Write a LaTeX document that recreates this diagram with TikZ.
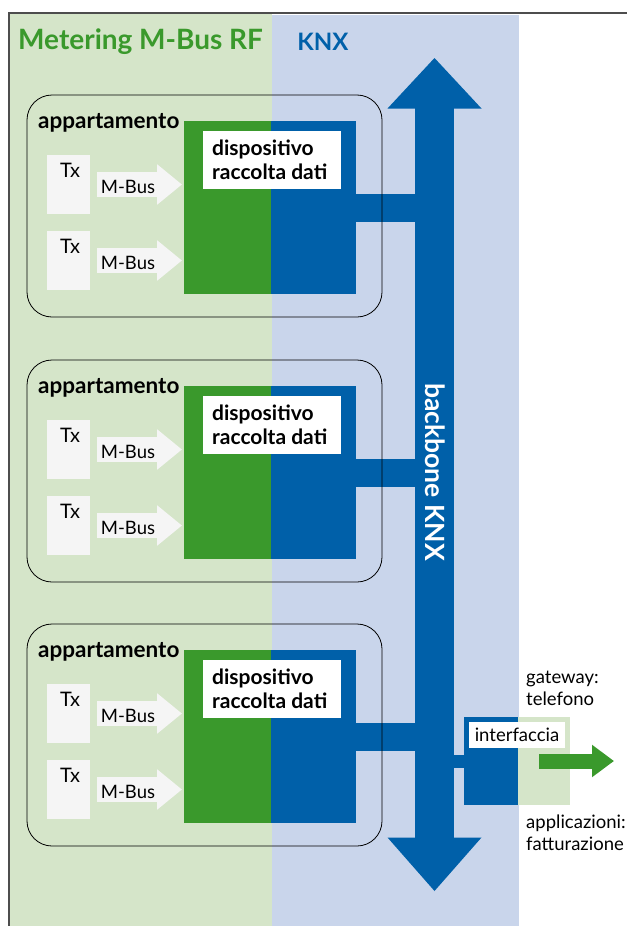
\documentclass[tikz,border=0pt]{standalone}
\usepackage{fontspec}
\setmainfont{Lato}
\usetikzlibrary{arrows.meta}
\definecolor{pgreen}{HTML}{D5E5C9}
\definecolor{pblue}{HTML}{C9D5EB}
\definecolor{dgreen}{HTML}{3A992C}
\definecolor{dblue}{HTML}{0060A9}
\definecolor{txfill}{HTML}{F5F5F5}
\definecolor{framec}{HTML}{4D4D4D}
\begin{document}
\begin{tikzpicture}[x=1pt,y=-1pt,
  box/.style={inner sep=0pt, outer sep=0pt, anchor=north west},
  hdr/.style={font=\bfseries\fontsize{28}{32}\selectfont, inner sep=0pt},
  lbl/.style={font=\bfseries\fontsize{21}{24}\selectfont, inner sep=0pt, align=left},
  txt/.style={font=\fontsize{18.5}{22}\selectfont, inner sep=0pt, align=left},
  bar/.style={draw=dblue, line width=28pt},
  mbusarrow/.style={draw=txfill, line width=25pt, -{Triangle[length=25pt,width=39pt]}, shorten <=7pt, shorten >=2pt},
  garrow/.style={draw=dgreen, line width=15pt, -{Triangle[length=22pt,width=31pt]}}
]
\useasboundingbox (0,0) rectangle (627,926);
% panels
\node[box, fill=pgreen, minimum width=263, minimum height=913] (mbus) at (9,13) {};
\node[box, fill=pblue, minimum width=247, minimum height=911] (knx) at (272,15) {};
\draw[framec, line width=1.5pt] (mbus.south west) -- (mbus.north west) -- (627,13);
% headers
\node[hdr, text=dgreen, anchor=west] (h1) at (18,42) {Metering M-Bus RF};
\node[hdr, text=dblue, font=\bfseries\fontsize{24}{28}\selectfont] (h2) at (323,42) {KNX};
% backbone
\node[box, fill=dblue, minimum width=39, minimum height=730] (bb) at (415,108) {};
\fill[dblue] (bb.north) ++(-47,0.5) -- ++(47,-50.5) -- ++(47,50.5) -- cycle;
\fill[dblue] (bb.south) ++(-47,-0.5) -- ++(47,53.5) -- ++(47,-53.5) -- cycle;
\node[rotate=-90, text=white, font=\bfseries\fontsize{26.5}{30}\selectfont, inner sep=0pt] (bbl) at (435,472) {backbone KNX};
% apartments
\foreach \i/\d in {1/0,2/265,3/529}{
  \node[box, fill=dgreen, minimum width=87.5, minimum height=173] (dg\i) at (184,121+\d) {};
  \node[box, fill=dblue, minimum width=85, minimum height=173] (db\i) at (271,121+\d) {};
  \node[box, fill=white, minimum width=138, minimum height=58] (dl\i) at (203,131+\d) {};
  \node[lbl, anchor=west] (dt\i) at ([xshift=9pt]dl\i.west) {dispositivo\\raccolta dati};
  \draw[bar] (db\i.east) -- (db\i.east -| bb.west);
  \node[box, fill=txfill, minimum width=43, minimum height=59] (ta\i) at (47,155+\d) {};
  \node[box, fill=txfill, minimum width=43, minimum height=59] (tb\i) at (47,231+\d) {};
  \node[txt, font=\fontsize{20}{22}\selectfont] (tat\i) at ([xshift=1.5pt,yshift=-15pt]ta\i.north) {Tx};
  \node[txt, font=\fontsize{20}{22}\selectfont] (tbt\i) at ([xshift=1.5pt,yshift=-15pt]tb\i.north) {Tx};
  \draw[mbusarrow] (ta\i.east) -- (ta\i.east -| dg\i.west);
  \draw[mbusarrow] (tb\i.east) -- (tb\i.east -| dg\i.west);
  \node[txt] (ma\i) at ([xshift=38pt,yshift=-2pt]ta\i.east) {M-Bus};
  \node[txt] (mb\i) at ([xshift=38pt,yshift=-2pt]tb\i.east) {M-Bus};
  \node[box, draw=black, line width=0.8pt, rounded corners=25pt, minimum width=355, minimum height=222] (apt\i) at (27,95+\d) {};
  \node[lbl, anchor=west, font=\bfseries\fontsize{22.5}{24}\selectfont] (at\i) at (38,123+\d) {appartamento};
}
% interface
\node[box, fill=dblue, minimum width=54, minimum height=88] (ifb) at (464,717) {};
\node[box, fill=pgreen, minimum width=52, minimum height=88] (ifg) at (518,717) {};
\node[box, fill=white, minimum width=96, minimum height=26] (ifl) at (469,722) {};
\node[txt] (ift) at (ifl.center) {interfaccia};
\draw[draw=dblue, line width=13pt] (ifb.west -| bb.east) -- (ifb.west);
\coordinate (out) at (614,761);
\draw[garrow] (ifg.west) ++(21,0) -- (out);
\node[txt, anchor=west] (gw) at (526,688) {gateway:\\telefono};
\node[txt, anchor=west] (ap) at (526,833) {applicazioni:\\fatturazione};
\end{tikzpicture}
\end{document}
